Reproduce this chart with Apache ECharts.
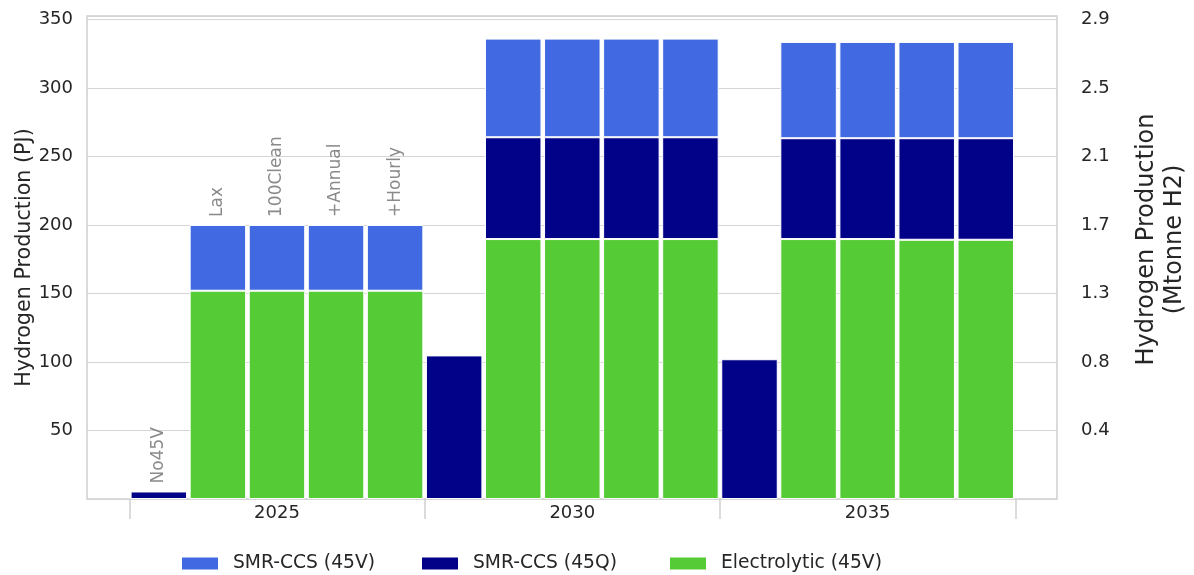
<!DOCTYPE html>
<html>
<head>
<meta charset="utf-8">
<title>Hydrogen Production</title>
<script src="https://cdn.jsdelivr.net/npm/echarts@6/dist/echarts.min.js"></script>
<style>
  html, body { margin: 0; padding: 0; background: #ffffff; }
  #chart { width: 1194px; height: 575px; }
</style>
</head>
<body>
<div id="chart"></div>
<script>
// Years and policy scenarios (five bars per year)
const years = ['2025', '2030', '2035'];
const scenarios = ['No45V', 'Lax', '100Clean', '+Annual', '+Hourly'];

// Hydrogen production in PJ, one value per bar (year-major, scenario-minor)
const electrolytic45V = [0, 152, 152, 152, 152,  0, 189.7, 189.7, 189.7, 189.7,  0, 189.7, 189.7, 189.2, 189.2];
const smrCcs45Q       = [5.5, 0, 0, 0, 0,  104.8, 74.3, 74.3, 74.3, 74.3,  102, 73.6, 73.6, 74.1, 74.1];
const smrCcs45V       = [0, 48, 48, 48, 48,  0, 72, 72, 72, 72,  0, 70.3, 70.3, 70.3, 70.3];

// Axis ticks: PJ on the left, Mtonne H2 on the right
const leftTicks = [50, 100, 150, 200, 250, 300, 350];
const rightTickLabels = ['0.4', '0.8', '1.3', '1.7', '2.1', '2.5', '2.9'];

// Legend entries in display order
const legendNames = ['SMR-CCS (45V)', 'SMR-CCS (45Q)', 'Electrolytic (45V)'];

const FONT = 'DejaVu Sans';
const TEXT = '#262626';
const GRID_LINE = '#d5d5d5';
const Y_MAX = 352.5;

// Bar slots: one category per (year, scenario)
const barSlots = [];
years.forEach(y => scenarios.forEach(s => barSlots.push(y + ' ' + s)));

// Stack order bottom -> top
const stackSeries = [
  { name: 'Electrolytic (45V)', color: '#55CB35', values: electrolytic45V },
  { name: 'SMR-CCS (45Q)',      color: '#020288', values: smrCcs45Q },
  { name: 'SMR-CCS (45V)',      color: '#4169E1', values: smrCcs45V }
];

// Scenario names are written above the bars of the first year only
function topSeriesOf(i) {
  let top = -1;
  stackSeries.forEach((s, k) => { if (s.values[i] > 0) top = k; });
  return top;
}

const barSeries = stackSeries.map((s, k) => ({
  name: s.name,
  type: 'bar',
  stack: 'total',
  xAxisIndex: 0,
  yAxisIndex: 0,
  barWidth: 56.5,
  z: 3,
  itemStyle: { color: s.color, borderColor: '#ffffff', borderWidth: 1 },
  label: {
    show: false,
    position: 'top',
    rotate: 90,
    align: 'left',
    verticalAlign: 'middle',
    distance: 8,
    color: '#8a8a8a',
    fontFamily: FONT,
    fontSize: 17
  },
  emphasis: { disabled: true },
  data: s.values.map((v, i) => {
    const item = { value: v > 0 ? v : '-' };
    if (i < scenarios.length && topSeriesOf(i) === k) {
      item.label = { show: true, formatter: scenarios[i % scenarios.length] };
    }
    return item;
  })
}));

// One legend block per entry so each sits at its own x position
const legendLefts = [180, 420, 668];
const legends = legendNames.map((name, i) => ({
  data: [name],
  left: legendLefts[i],
  top: 554,
  padding: 0,
  icon: 'rect',
  itemWidth: 38,
  itemHeight: 14,
  selectedMode: false,
  textStyle: { color: TEXT, fontFamily: FONT, fontSize: 18.7, padding: [0, 0, 0, 9] }
}));

const chart = echarts.init(document.getElementById('chart'), null, { renderer: 'canvas' });

chart.setOption({
  backgroundColor: '#ffffff',
  animation: false,
  textStyle: { fontFamily: FONT },
  grid: [
    // bars and year axis
    { left: 129.3, right: 1194 - 1015.3, top: 16, bottom: 76, outerBoundsMode: 'none' },
    // frame, gridlines and value axes
    { left: 87, right: 1194 - 1057, top: 16, bottom: 76, show: true,
      borderColor: '#cfcfcf', borderWidth: 1.5, outerBoundsMode: 'none' }
  ],
  xAxis: [
    { type: 'category', gridIndex: 0, data: barSlots, show: false },
    { type: 'category', gridIndex: 0, data: years, position: 'bottom',
      boundaryGap: true,
      axisLine: { show: false },
      axisTick: { show: true, length: 20, interval: 0, lineStyle: { color: '#cfcfcf', width: 1.5 } },
      axisLabel: { color: TEXT, fontFamily: FONT, fontSize: 18, margin: 5 },
      splitLine: { show: false } },
    { type: 'value', gridIndex: 1, show: false, min: 0, max: 1 }
  ],
  yAxis: [
    { type: 'value', gridIndex: 0, min: 0, max: Y_MAX, interval: 50, show: false },
    { type: 'value', gridIndex: 1, min: 0, max: Y_MAX, interval: 50, position: 'left',
      name: 'Hydrogen Production (PJ)', nameLocation: 'middle', nameGap: 52, nameRotate: 90,
      nameMoveOverlap: false,
      nameTextStyle: { color: TEXT, fontFamily: FONT, fontSize: 20.7 },
      axisLine: { show: false }, axisTick: { show: false },
      axisLabel: { color: TEXT, fontFamily: FONT, fontSize: 18, margin: 14,
        formatter: v => (leftTicks.indexOf(v) >= 0 ? String(v) : '') },
      splitLine: { show: true, lineStyle: { color: GRID_LINE, width: 1.2 } } },
    { type: 'value', gridIndex: 1, min: 0, max: Y_MAX, interval: 50, position: 'right',
      name: 'Hydrogen Production\n(Mtonne H2)', nameLocation: 'middle', nameGap: 76, nameRotate: 90,
      nameTextStyle: { color: TEXT, fontFamily: FONT, fontSize: 24, lineHeight: 28, align: 'center',
        padding: [0, 0, 0, 36] },
      axisLine: { show: false }, axisTick: { show: false },
      axisLabel: { color: TEXT, fontFamily: FONT, fontSize: 18, margin: 24,
        formatter: v => { const k = leftTicks.indexOf(v); return k >= 0 ? rightTickLabels[k] : ''; } },
      splitLine: { show: false } }
  ],
  legend: legends,
  series: barSeries
});
</script>
</body>
</html>
